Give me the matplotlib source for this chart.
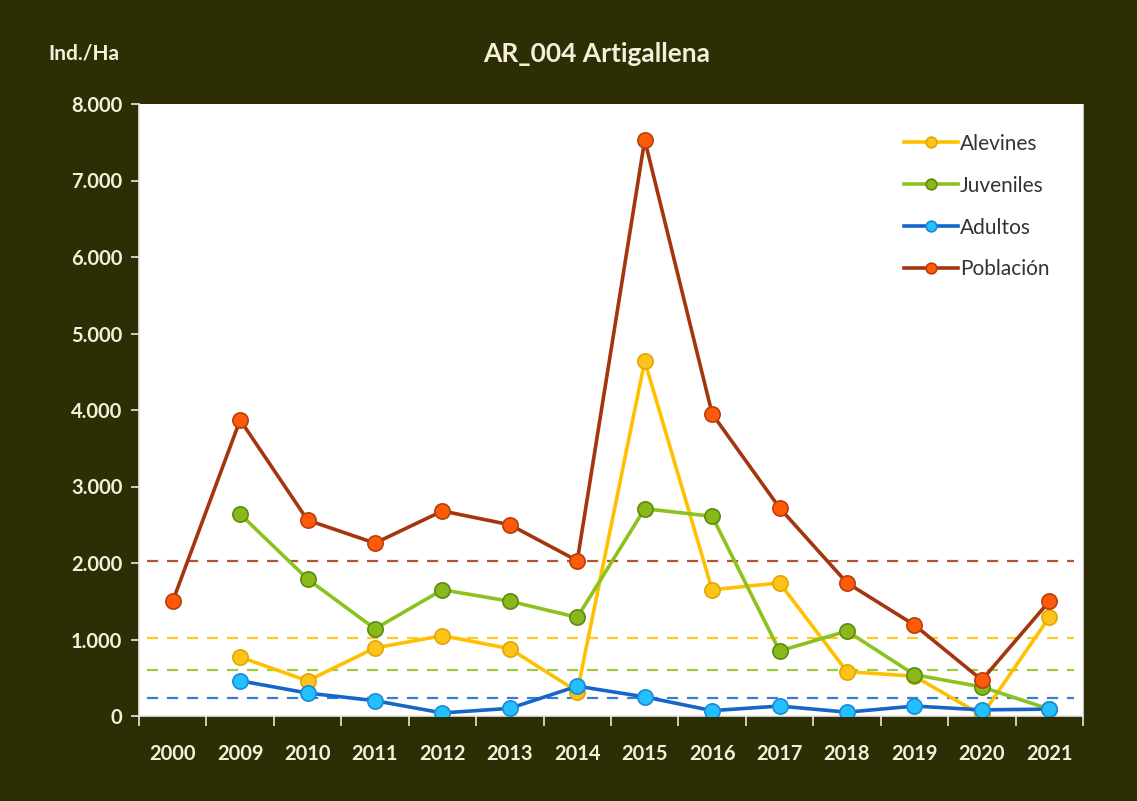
import matplotlib
matplotlib.use("Agg")
import matplotlib.pyplot as plt
import numpy as np
from matplotlib.ticker import FuncFormatter, FixedLocator

years = ["2000", "2009", "2010", "2011", "2012", "2013", "2014", "2015",
         "2016", "2017", "2018", "2019", "2020", "2021"]
nan = np.nan
alevines = [nan, 770, 460, 890, 1050, 880, 320, 4640, 1650, 1740, 580, 520, 10, 1290]
juveniles = [nan, 2640, 1790, 1140, 1650, 1500, 1290, 2710, 2610, 850, 1110, 540, 380, 90]
adultos = [nan, 460, 300, 200, 40, 100, 390, 250, 70, 130, 50, 130, 80, 90]
poblacion = [1500, 3870, 2560, 2260, 2680, 2500, 2030, 7530, 3950, 2720, 1740, 1190, 470, 1500]
medias = {"Alevines": 1020, "Juveniles": 600, "Adultos": 235, "Población": 2030}

series = [
    ("Alevines", alevines, "#FFC000", "#FFC21A", "#E0A800"),
    ("Juveniles", juveniles, "#8CC21E", "#88B81A", "#5E8A10"),
    ("Adultos", adultos, "#1566C8", "#22C0FF", "#1A8AD8"),
    ("Población", poblacion, "#A4360F", "#FF5A0A", "#B8400A"),
]

bg = "#2E2E04"
txt = "#F4F0DC"

fig = plt.figure(figsize=(11.37, 8.01), dpi=100, facecolor=bg)
ax = fig.add_axes([139/1137, 1-716/801, (1083-139)/1137, (716-104)/801])
ax.set_facecolor("white")

x = np.arange(len(years))
for name, vals, lc, mc, ec in series:
    ax.axhline(medias[name], xmin=0.008, xmax=0.99, color=lc, lw=1.6,
               dashes=(5, 4), alpha=0.85, zorder=1)
for name, vals, lc, mc, ec in series:
    ax.plot(x, vals, color=lc, lw=2.6, marker="o", markersize=11,
            markerfacecolor=mc, markeredgecolor=ec, markeredgewidth=1.2,
            label=name, zorder=3)

ax.set_xlim(-0.5, len(years) - 0.5)
ax.set_ylim(0, 8000)
ax.set_yticks(np.arange(0, 8001, 1000))
ax.yaxis.set_major_formatter(FuncFormatter(lambda v, p: f"{int(v):,}".replace(",", ".")))
ax.set_xticks(x)
ax.set_xticklabels(years)
ax.xaxis.set_minor_locator(FixedLocator(np.arange(-0.5, len(years), 1.0)))
ax.tick_params(axis="x", which="major", length=0, pad=20, colors=txt, labelsize=14.5)
ax.tick_params(axis="x", which="minor", length=7, width=1.2, color="#E8E8E8", direction="out")
ax.tick_params(axis="y", length=6, width=1.2, color="#E8E8E8", colors=txt, labelsize=14.5, pad=6)
for lab in ax.get_xticklabels() + ax.get_yticklabels():
    lab.set_fontweight("bold")
    lab.set_family("Lato")

ax.spines["top"].set_visible(False)
ax.spines["right"].set_color("#BBBBBB")
ax.spines["left"].set_color("#E8E8E8")
ax.spines["bottom"].set_color("#E8E8E8")
ax.spines["left"].set_linewidth(1.2)
ax.spines["bottom"].set_linewidth(1.2)

leg = ax.legend(loc="upper left", bbox_to_anchor=(0.79, 0.982), frameon=False,
                prop={"family": "Lato", "size": 15}, handlelength=2.6,
                handletextpad=0.1, labelspacing=1.05, labelcolor="#333333",
                markerscale=0.7)

fig.text(597/1137, 1-54/801, "AR_004 Artigallena", ha="center", va="center",
         color=txt, fontsize=19, fontweight="bold", family="Lato")
fig.text(84/1137, 1-53/801, "Ind./Ha", ha="center", va="center",
         color=txt, fontsize=15, fontweight="bold", family="Lato")

fig.savefig("out.png", dpi=100, facecolor=bg)
